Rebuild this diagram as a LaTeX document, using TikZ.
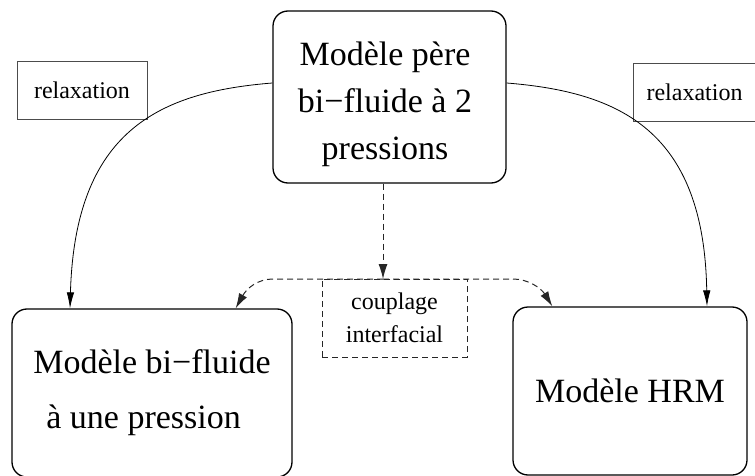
\documentclass[tikz,border=0pt]{standalone}
\usepackage{fontspec}
\setmainfont{Liberation Serif}
\usetikzlibrary{arrows.meta}

\begin{document}
\begin{tikzpicture}[x=1pt, y=-1pt,
	modele/.style={draw, line width=1.3pt, rounded corners=15pt, inner sep=0pt, font=\fontsize{34}{46}\selectfont},
	relaxbox/.style={draw=black!70, line width=0.9pt, inner sep=0pt, font=\fontsize{24}{33}\selectfont},
	couplbox/.style={draw=black!85, dash pattern=on 6pt off 4pt, line width=1pt, inner sep=0pt, align=center, font=\fontsize{24}{33}\selectfont},
	relax/.style={line width=0.8pt, -{Latex[length=16pt,width=7.5pt]}},
	coupl/.style={draw=black!85, dash pattern=on 6pt off 4pt, line width=1pt, -{Latex[length=15pt,width=9pt]}},
	]
	\useasboundingbox (0,0) rectangle (755,476);
	% les trois modeles
	\node[modele, minimum width=233pt, minimum height=172pt] (pere) at (389.5,97) {};
	\node[font=\fontsize{34}{47}\selectfont, align=center] (peretxt) at (385,104) {Modèle père\\bi−fluide à 2\\pressions};
	\node[modele, minimum width=280pt, minimum height=168pt, align=left] (bif) at (152,393) {Modèle bi−fluide\\[9pt]\hspace*{13pt}à une pression};
	\node[modele, minimum width=234pt, minimum height=168pt] (hrm) at (630,391) {Modèle HRM};
	% etiquettes
	\node[relaxbox, minimum width=130pt, minimum height=58pt] (relaxg) at (82,90) {relaxation};
	\node[relaxbox, minimum width=123pt, minimum height=58pt] (relaxd) at (694.5,92) {relaxation};
	\node[couplbox, minimum width=145pt, minimum height=78pt] (coupl) at (394.5,318) {couplage\\interfacial};
	% relaxation
	\draw[relax] ([yshift=14pt]pere.west) .. controls (160,92) and (75,130) .. ([xshift=-82pt]bif.north);
	\draw[relax] ([yshift=14pt]pere.east) .. controls (619,92) and (704,130) .. ([xshift=77pt]hrm.north);
	% couplage
	\coordinate (jn) at (383,279);
	\draw[coupl] ([xshift=-6.5pt]pere.south) -- (jn);
	\draw[coupl] (jn) -- (273,279) .. controls (258,279) and (247,288) .. ([xshift=-57pt]bif.north east);
	\draw[coupl] (jn) -- (513,279) .. controls (528,279) and (541,288) .. ([xshift=40pt]hrm.north west);
\end{tikzpicture}
\end{document}
